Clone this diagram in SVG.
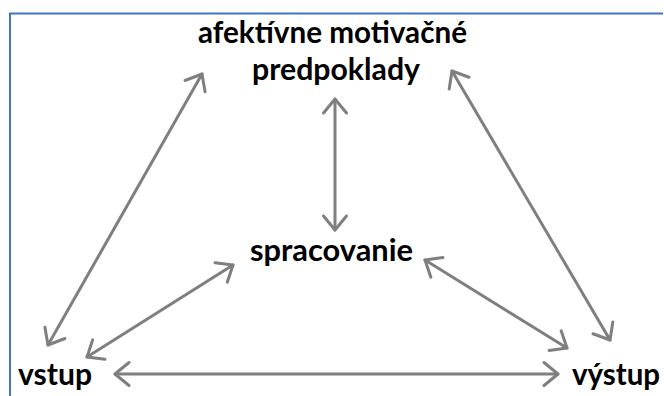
<svg xmlns="http://www.w3.org/2000/svg" width="664" height="396" viewBox="0 0 664 396">
<style>
.lbl{font-family:Lato,"Open Sans","Liberation Sans",sans-serif;font-weight:700;font-size:31px;fill:#000}
.conn{stroke:#7f7f7f;stroke-width:3;fill:none;stroke-linecap:round}
</style>
<defs>
<marker id="ah" markerUnits="userSpaceOnUse" markerWidth="30" markerHeight="30" viewBox="-16 -15 20 30" refX="0" refY="0" orient="auto-start-reverse">
<path d="M-14,-11.5 L0,0 L-14,11.5" fill="none" stroke="#7f7f7f" stroke-width="3" stroke-linecap="round" stroke-linejoin="round"/>
</marker>
</defs>
<rect width="664" height="396" fill="#fff"/>
<path d="M10,396 L10,13.5 L663,13.5" fill="none" stroke="#4472c4" stroke-width="2"/>
<g id="connectors">
<line class="conn" x1="202" y1="74" x2="48" y2="345" marker-start="url(#ah)" marker-end="url(#ah)"/>
<line class="conn" x1="335" y1="99" x2="335" y2="230" marker-start="url(#ah)" marker-end="url(#ah)"/>
<line class="conn" x1="452" y1="71" x2="610" y2="340" marker-start="url(#ah)" marker-end="url(#ah)"/>
<line class="conn" x1="233" y1="265" x2="87" y2="357" marker-start="url(#ah)" marker-end="url(#ah)"/>
<line class="conn" x1="425" y1="260" x2="567" y2="348" marker-start="url(#ah)" marker-end="url(#ah)"/>
<line class="conn" x1="115" y1="374" x2="558" y2="374" marker-start="url(#ah)" marker-end="url(#ah)"/>
</g>
<g id="node-afektivne">
<text class="lbl" x="198" y="43" textLength="269" lengthAdjust="spacingAndGlyphs">afektívne motivačné</text>
<text class="lbl" x="252" y="80" textLength="168" lengthAdjust="spacingAndGlyphs">predpoklady</text>
</g>
<g id="node-spracovanie">
<text class="lbl" x="250" y="261" textLength="163" lengthAdjust="spacingAndGlyphs">spracovanie</text>
</g>
<g id="node-vstup">
<text class="lbl" x="18" y="385" textLength="74" lengthAdjust="spacingAndGlyphs">vstup</text>
</g>
<g id="node-vystup">
<text class="lbl" x="572" y="385" textLength="88" lengthAdjust="spacingAndGlyphs">výstup</text>
</g>
</svg>
